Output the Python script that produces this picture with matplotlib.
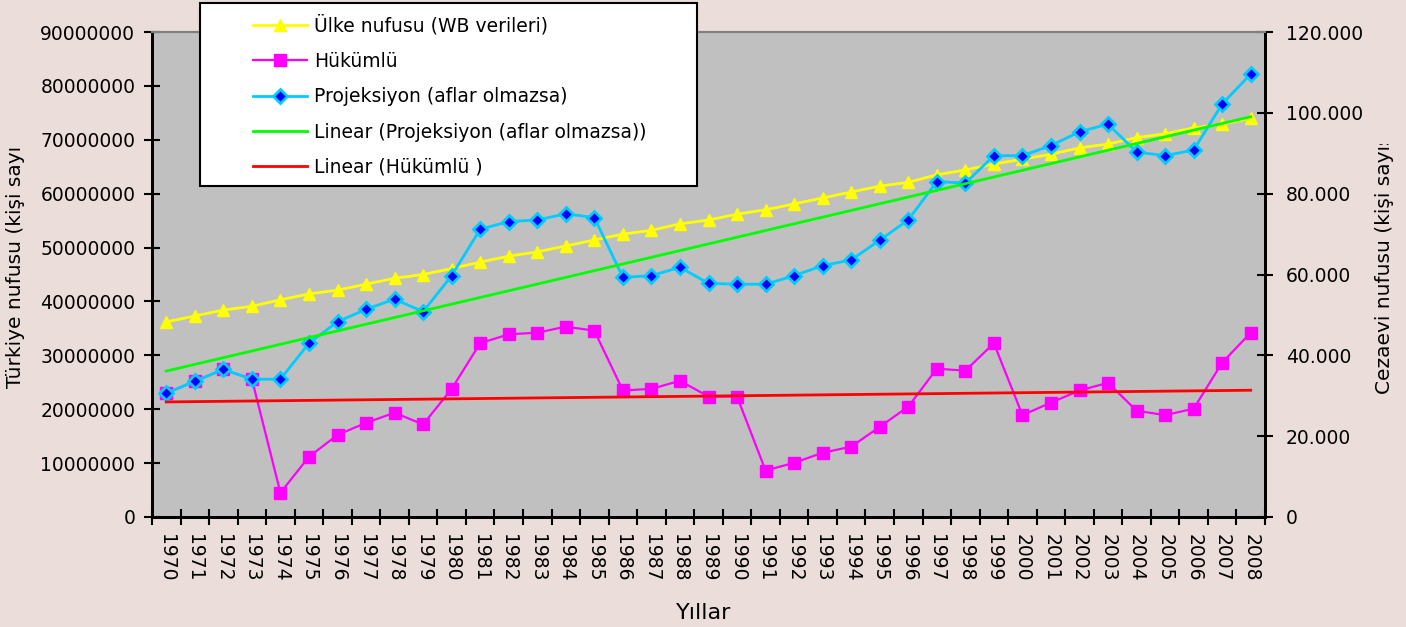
import numpy as np
import matplotlib
matplotlib.use("Agg")
import matplotlib.pyplot as plt
from matplotlib.patches import Rectangle
from matplotlib.transforms import Bbox
from matplotlib.ticker import FuncFormatter

years = list(range(1970, 2009))

# Türkiye nüfusu, milyon kişi (sol eksen)
nufus_mn = [36.2, 37.3, 38.4, 39.1, 40.3, 41.4, 42.1, 43.2, 44.3, 45.0,
            46.1, 47.3, 48.4, 49.2, 50.3, 51.4, 52.5, 53.2, 54.4, 55.1,
            56.2, 57.0, 58.1, 59.2, 60.3, 61.4, 62.1, 63.5, 64.4, 65.5,
            66.4, 67.3, 68.5, 69.2, 70.4, 71.1, 72.2, 72.9, 74.0]

# hükümlü sayısı, bin kişi (sağ eksen)
hukumlu_bin = [30.6, 33.6, 36.5, 34.1, 6.0, 14.9, 20.3, 23.3, 25.8, 22.9,
               31.7, 43.0, 45.2, 45.6, 47.1, 46.1, 31.3, 31.7, 33.7, 29.8,
               29.8, 11.5, 13.4, 15.9, 17.4, 22.3, 27.3, 36.7, 36.2, 43.0,
               25.2, 28.3, 31.3, 33.2, 26.3, 25.2, 26.8, 38.2, 45.6]

# projeksiyon (aflar olmazsa), bin kişi (sağ eksen)
projeksiyon_bin = [30.6, 33.6, 36.5, 34.1, 34.1, 43.0, 48.3, 51.4, 53.9, 50.8,
                   59.7, 71.2, 73.1, 73.5, 75.0, 74.1, 59.3, 59.7, 61.8, 57.8,
                   57.6, 57.6, 59.7, 62.2, 63.6, 68.5, 73.5, 83.0, 82.6, 89.4,
                   89.4, 91.9, 95.3, 97.2, 90.3, 89.4, 90.8, 102.2, 109.6]

labels = ["Ülke nufusu (WB verileri)", "Hükümlü", "Projeksiyon (aflar olmazsa)",
          "Linear (Projeksiyon (aflar olmazsa))", "Linear (Hükümlü )"]

x = np.arange(len(years))
nufus = np.array(nufus_mn) * 1e6
hukumlu = np.array(hukumlu_bin) * 1000
proj = np.array(projeksiyon_bin) * 1000

# excel tarzı doğrusal eğilim çizgileri
proj_fit = np.polyval(np.polyfit(x, proj, 1), x)
huk_fit = np.polyval(np.polyfit(x, hukumlu, 1), x)

bg = "#EBDDD9"
fig = plt.figure(figsize=(14.06, 6.27), dpi=100, facecolor=bg)
ax = fig.add_axes([152/1406, 1 - 517/627, (1265-152)/1406, (517-32)/627])
ax.set_facecolor("#C0C0C0")
ax2 = ax.twinx()

l1, = ax.plot(x, nufus, color="#FFFF00", lw=2, marker="^", ms=9, mec="#FFFF00", zorder=3)
l2, = ax2.plot(x, hukumlu, color="#FF00FF", lw=1.6, marker="s", ms=9, mec="#FF00FF", zorder=3)
l3, = ax2.plot(x, proj, color="#00CCFF", lw=2, marker="D", ms=7.5, mfc="#0000FF",
               mec="#00CCFF", mew=2, zorder=4)
l4, = ax2.plot(x, proj_fit, color="#00FF00", lw=2, zorder=5)
l5, = ax2.plot(x, huk_fit, color="#FF0000", lw=2, zorder=5)

ax.set_xlim(-0.5, len(years) - 0.5)
ax.set_ylim(0, 90000000)
ax2.set_ylim(0, 120000)
ax.set_yticks(np.arange(0, 90000001, 10000000))
ax2.set_yticks(np.arange(0, 120001, 20000))
ax.yaxis.set_major_formatter(FuncFormatter(lambda v, p: f"{int(v)}"))
ax2.yaxis.set_major_formatter(FuncFormatter(lambda v, p: f"{v:,.0f}".replace(",", ".")))

ax.set_xticks(x)
ax.set_xticklabels([str(y) for y in years], rotation=270)
ax.set_xticks(np.arange(-0.5, len(years)), minor=True)
ax.tick_params(axis="x", which="major", length=0, pad=12, labelsize=13.5)
ax.tick_params(axis="x", which="minor", direction="inout", length=12, width=1.5)
ax.tick_params(axis="y", direction="inout", length=12, width=1.5, pad=6, labelsize=13.5)
ax2.tick_params(axis="y", direction="inout", length=12, width=1.5, pad=9, labelsize=13.5)

for a in (ax, ax2):
    a.spines["top"].set_color("#808080")
    a.spines["top"].set_linewidth(1.5)
    for s in ("left", "right", "bottom"):
        a.spines[s].set_linewidth(2)
ax.set_zorder(ax2.get_zorder() - 1)
ax2.patch.set_visible(False)

fig.text(704/1406, 1 - 613/627, "Yıllar", ha="center", va="center", fontsize=16)

# eksen başlıkları excel'deki gibi kırpık
t = fig.text(16/1406, 1 - 388/627, "Türkiye nufusu (kişi sayısı)", rotation=90,
             ha="center", va="bottom", fontsize=14.5)
t.set_clip_box(Bbox.from_extents(0, 0, 150, 627 - 148))
t.set_clip_on(True)
t2 = fig.text(1385/1406, 1 - 394/627, "Cezaevi nufusu (kişi sayısı)", rotation=90,
              ha="center", va="bottom", fontsize=14.5)
t2.set_clip_box(Bbox.from_extents(1300, 0, 1406, 627 - 144))
t2.set_clip_on(True)

# lejant
fig.patches.append(Rectangle((200/1406, 1 - 186/627), 497/1406, 183/627,
                             transform=fig.transFigure, facecolor="white",
                             edgecolor="black", lw=1.5, zorder=10))
leg = fig.legend([l1, l2, l3, l4, l5], labels, loc="upper left",
                 bbox_to_anchor=(240/1406, 1 - 2/627), frameon=False,
                 fontsize=13.5, handlelength=2.9, handletextpad=0.33,
                 labelspacing=0.87, borderpad=0.2)
leg.set_zorder(11)

fig.savefig("out.png", dpi=100, facecolor=bg)
